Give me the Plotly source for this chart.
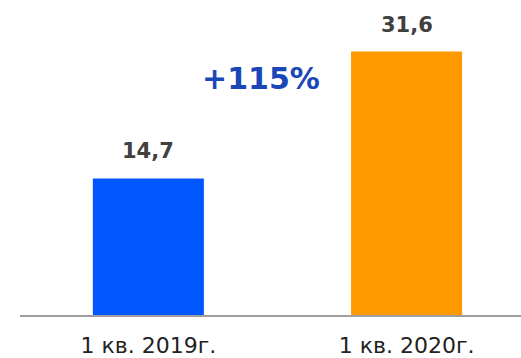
import plotly.graph_objects as go

# Quarterly totals
categories = ["1 кв. 2019г.", "1 кв. 2020г."]
values = [14.7, 31.6]
value_labels = ["14,7", "31,6"]
bar_colors = ["#0057FF", "#FF9900"]

# Value axis starts slightly below zero; bars rise from the axis floor
axis_floor = -3.5
axis_top = 35.8

positions = list(range(len(categories)))
growth = round((values[1] / values[0] - 1) * 100)

fig = go.Figure()
fig.add_trace(go.Bar(
    x=positions,
    y=[v - axis_floor for v in values],
    base=axis_floor,
    width=0.43,
    marker=dict(color=bar_colors, line=dict(width=0)),
    hoverinfo="skip",
))

for xp, v, lab in zip(positions, values, value_labels):
    fig.add_annotation(
        x=xp, y=v, text=f"<b>{lab}</b>", showarrow=False,
        yanchor="bottom", yshift=13,
        font=dict(family="DejaVu Sans", size=21, color="#404040"),
    )

fig.add_annotation(
    x=0.4365, y=28.06, text=f"<b>+{growth}%</b>", showarrow=False,
    xanchor="center", yanchor="middle",
    font=dict(family="DejaVu Sans", size=30, color="#1A47B8"),
)

fig.update_layout(
    width=521, height=358,
    margin=dict(l=20, r=0, t=20, b=38),
    paper_bgcolor="white", plot_bgcolor="white",
    showlegend=False,
    xaxis=dict(
        range=[-0.497, 1.443],
        tickvals=positions, ticktext=categories,
        showgrid=False, zeroline=False,
        showline=True, linecolor="#9E9E9E", linewidth=2,
        ticks="outside", ticklen=10, tickcolor="rgba(0,0,0,0)",
        tickfont=dict(family="DejaVu Sans", size=22, color="#222222"),
    ),
    yaxis=dict(
        range=[axis_floor, axis_top],
        visible=False, showgrid=False, zeroline=False,
    ),
)

fig.write_html("out.html")
